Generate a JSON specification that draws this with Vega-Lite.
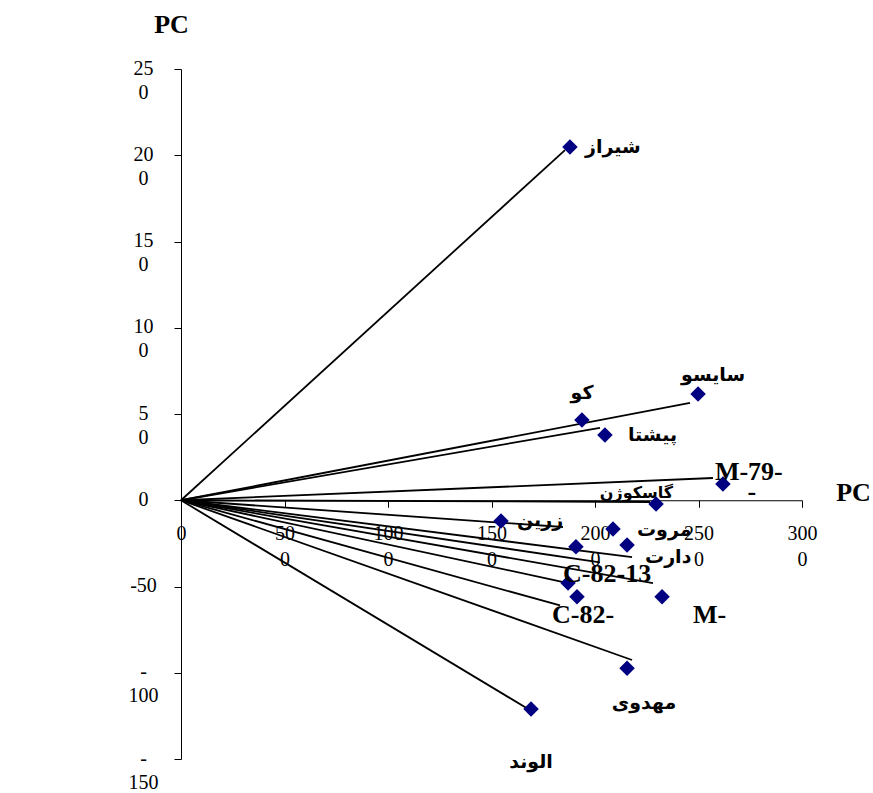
{
  "$schema": "https://vega.github.io/schema/vega-lite/v6.json",
  "width": 621,
  "height": 690,
  "autosize": {"type": "none"},
  "padding": {"left": 181, "top": 69, "right": 71, "bottom": 34},
  "background": "white",
  "config": {
    "view": {"stroke": null},
    "axis": {
      "grid": false,
      "domainColor": "black",
      "tickColor": "black",
      "labelColor": "black",
      "titleColor": "black",
      "labelFont": "Liberation Serif",
      "labelFontSize": 20,
      "titleFont": "Liberation Serif",
      "titleFontSize": 26,
      "titleFontWeight": "bold",
      "tickSize": 7,
      "domainWidth": 1,
      "tickWidth": 1
    }
  },
  "datasets": {
    "pts": [
      {"name": "شیراز", "pc1": 1879, "pc2": 204.8},
      {"name": "سایسو", "pc1": 2498, "pc2": 61.6},
      {"name": "کو", "pc1": 1937, "pc2": 46.5},
      {"name": "پیشتا", "pc1": 2048, "pc2": 37.8},
      {"name": "M-79-", "pc1": 2618, "pc2": 9.4},
      {"name": "گاسکوژن", "pc1": 2295, "pc2": -2.2},
      {"name": "زرین", "pc1": 1546, "pc2": -12},
      {"name": "مروت", "pc1": 2087, "pc2": -16.7},
      {"name": "دارت", "pc1": 2155, "pc2": -26},
      {"name": "", "pc1": 1908, "pc2": -27},
      {"name": "C-82-13", "pc1": 1870, "pc2": -48},
      {"name": "C-82-", "pc1": 1913, "pc2": -56},
      {"name": "M-", "pc1": 2324, "pc2": -56},
      {"name": "مهدوی", "pc1": 2155, "pc2": -97.4},
      {"name": "الوند", "pc1": 1691, "pc2": -121}
    ],
    "vec": [
      {"pc1": 1855, "pc2": 203},
      {"pc1": 2459, "pc2": 56.5},
      {"pc1": 2024, "pc2": 42},
      {"pc1": 2570, "pc2": 12.9},
      {"pc1": 2266, "pc2": -1},
      {"pc1": 1845, "pc2": -15.5},
      {"pc1": 2179, "pc2": -33},
      {"pc1": 2024, "pc2": -36},
      {"pc1": 2280, "pc2": -48},
      {"pc1": 1870, "pc2": -48},
      {"pc1": 1831, "pc2": -61},
      {"pc1": 2179, "pc2": -92.6},
      {"pc1": 1671, "pc2": -120.6}
    ]
  },
  "encoding": {
    "x": {
      "field": "pc1",
      "type": "quantitative",
      "scale": {"domain": [0, 3000], "nice": false, "zero": false},
      "axis": {
        "orient": "bottom",
        "offset": -258.75,
        "title": "PC",
        "titleX": 672,
        "titleY": 0,
        "titleAngle": 0,
        "titleAlign": "center",
        "titleBaseline": "alphabetic",
        "values": [0, 500, 1000, 1500, 2000, 2500, 3000],
        "labelExpr": "datum.value == 0 ? '0' : [format(datum.value/10,'d'), '0']",
        "labelBaseline": "top",
        "labelPadding": 16,
        "labelLineHeight": 26,
        "labelAlign": "center",
        "labelFlush": false,
        "labelOverlap": false
      }
    },
    "y": {
      "field": "pc2",
      "type": "quantitative",
      "scale": {"domain": [-150, 250], "nice": false, "zero": false},
      "axis": {
        "title": "PC",
        "titleX": -10,
        "titleY": -37,
        "titleAngle": 0,
        "titleAlign": "center",
        "titleBaseline": "alphabetic",
        "values": [-150, -100, -50, 0, 50, 100, 150, 200, 250],
        "labelExpr": "datum.value == 0 ? '0' : datum.value == -50 ? '-50' : datum.value < 0 ? ['-', format(-datum.value,'d')] : [format(datum.value/10,'d'), '0']",
        "labelAlign": "center",
        "labelPadding": 31,
        "labelBaseline": "alphabetic",
        "labelOffset": 5,
        "labelLineHeight": 24,
        "labelFlush": false,
        "labelOverlap": false
      }
    }
  },
  "layer": [
    {
      "data": {"name": "vec"},
      "mark": {"type": "rule", "color": "black", "strokeWidth": 1.8},
      "encoding": {
        "x2": {"datum": 0},
        "y2": {"datum": 0}
      }
    },
    {
      "data": {"name": "pts"},
      "mark": {"type": "point", "shape": "diamond", "filled": true, "color": "#000080", "size": 240, "opacity": 1},
      "encoding": {}
    },
    {
      "data": {"name": "pts"},
      "transform": [{"filter": "datum.name == 'شیراز'"}],
      "mark": {"type": "text", "align": "left", "baseline": "middle", "dx": 15, "dy": 0, "font": "DejaVu Sans", "fontWeight": "bold", "fontSize": 19, "color": "black"},
      "encoding": {"text": {"field": "name"}}
    },
    {
      "data": {"name": "pts"},
      "transform": [{"filter": "datum.name == 'سایسو'"}],
      "mark": {"type": "text", "align": "center", "baseline": "middle", "dx": 15, "dy": -19, "font": "DejaVu Sans", "fontWeight": "bold", "fontSize": 19, "color": "black"},
      "encoding": {"text": {"field": "name"}}
    },
    {
      "data": {"name": "pts"},
      "transform": [{"filter": "datum.name == 'کو'"}],
      "mark": {"type": "text", "align": "center", "baseline": "middle", "dx": 0, "dy": -27, "font": "DejaVu Sans", "fontWeight": "bold", "fontSize": 19, "color": "black"},
      "encoding": {"text": {"field": "name"}}
    },
    {
      "data": {"name": "pts"},
      "transform": [{"filter": "datum.name == 'پیشتا'"}],
      "mark": {"type": "text", "align": "left", "baseline": "middle", "dx": 23, "dy": 0, "font": "DejaVu Sans", "fontWeight": "bold", "fontSize": 19, "color": "black"},
      "encoding": {"text": {"field": "name"}}
    },
    {
      "data": {"name": "pts"},
      "transform": [{"filter": "datum.name == 'M-79-'"}],
      "mark": {"type": "text", "align": "left", "baseline": "alphabetic", "dx": -8, "dy": -4, "font": "Liberation Serif", "fontWeight": "bold", "fontSize": 26, "color": "black"},
      "encoding": {"text": {"field": "name"}}
    },
    {
      "data": {"name": "pts"},
      "transform": [{"filter": "datum.name == 'M-79-'"}],
      "mark": {"type": "text", "align": "center", "baseline": "alphabetic", "dx": 29, "dy": 16, "font": "Liberation Serif", "fontWeight": "bold", "fontSize": 26, "color": "black"},
      "encoding": {"text": {"value": "-"}}
    },
    {
      "data": {"name": "pts"},
      "transform": [{"filter": "datum.name == 'گاسکوژن'"}],
      "mark": {"type": "text", "align": "right", "baseline": "middle", "dx": 17, "dy": -11, "font": "DejaVu Sans", "fontWeight": "bold", "fontSize": 16, "color": "black"},
      "encoding": {"text": {"field": "name"}}
    },
    {
      "data": {"name": "pts"},
      "transform": [{"filter": "datum.name == 'زرین'"}],
      "mark": {"type": "text", "align": "left", "baseline": "middle", "dx": 16, "dy": -1, "font": "DejaVu Sans", "fontWeight": "bold", "fontSize": 19, "color": "black"},
      "encoding": {"text": {"field": "name"}}
    },
    {
      "data": {"name": "pts"},
      "transform": [{"filter": "datum.name == 'مروت'"}],
      "mark": {"type": "text", "align": "left", "baseline": "middle", "dx": 24, "dy": 1, "font": "DejaVu Sans", "fontWeight": "bold", "fontSize": 19, "color": "black"},
      "encoding": {"text": {"field": "name"}}
    },
    {
      "data": {"name": "pts"},
      "transform": [{"filter": "datum.name == 'دارت'"}],
      "mark": {"type": "text", "align": "left", "baseline": "middle", "dx": 18, "dy": 12, "font": "DejaVu Sans", "fontWeight": "bold", "fontSize": 19, "color": "black"},
      "encoding": {"text": {"field": "name"}}
    },
    {
      "data": {"name": "pts"},
      "transform": [{"filter": "datum.name == 'C-82-13'"}],
      "mark": {"type": "text", "align": "left", "baseline": "alphabetic", "dx": -5, "dy": -1, "font": "Liberation Serif", "fontWeight": "bold", "fontSize": 26, "color": "black"},
      "encoding": {"text": {"field": "name"}}
    },
    {
      "data": {"name": "pts"},
      "transform": [{"filter": "datum.name == 'C-82-'"}],
      "mark": {"type": "text", "align": "left", "baseline": "alphabetic", "dx": -25, "dy": 26, "font": "Liberation Serif", "fontWeight": "bold", "fontSize": 26, "color": "black"},
      "encoding": {"text": {"field": "name"}}
    },
    {
      "data": {"name": "pts"},
      "transform": [{"filter": "datum.name == 'M-'"}],
      "mark": {"type": "text", "align": "left", "baseline": "alphabetic", "dx": 31, "dy": 26, "font": "Liberation Serif", "fontWeight": "bold", "fontSize": 26, "color": "black"},
      "encoding": {"text": {"field": "name"}}
    },
    {
      "data": {"name": "pts"},
      "transform": [{"filter": "datum.name == 'مهدوی'"}],
      "mark": {"type": "text", "align": "center", "baseline": "middle", "dx": 17, "dy": 35, "font": "DejaVu Sans", "fontWeight": "bold", "fontSize": 19, "color": "black"},
      "encoding": {"text": {"field": "name"}}
    },
    {
      "data": {"name": "pts"},
      "transform": [{"filter": "datum.name == 'الوند'"}],
      "mark": {"type": "text", "align": "center", "baseline": "middle", "dx": 0, "dy": 53, "font": "DejaVu Sans", "fontWeight": "bold", "fontSize": 19, "color": "black"},
      "encoding": {"text": {"field": "name"}}
    }
  ]
}
